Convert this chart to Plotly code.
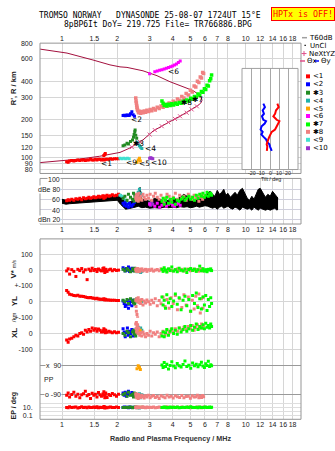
import math
import plotly.graph_objects as go

W, H = 335, 451
L, R = 40, 301

# ---------------------------------------------------------------- data
freq_tickvals = [1, 1.5, 2, 3, 4, 5, 6, 7, 8, 10, 12, 14, 16, 18]
freq_ticktext = ["1", "1.5", "2", "3", "4", "5", "6", "7", "8", "10", "12", "14", "16", "18"]
height_tickvals = [80, 90, 100, 120, 150, 200, 300, 400, 600, 800]
amp_tickvals = [20, 40, 60, 80, 100]
tilt_tickvals = [-20, -10, 0, 10, 20]
tilt_ticktext = ["-20", "-10", "0", "10", "20"]

# model profile trace (R' vs f)
model_f = [0.759, 1.065, 1.475, 1.825, 2.069, 2.258, 2.76, 3.29, 3.87, 4.56, 5.17, 5.64, 5.74, 5.78,
           5.70, 5.50, 4.98, 4.39, 3.73, 3.13, 2.76, 2.34, 2.069, 1.825, 1.60, 1.25, 1.00, 0.759]
model_h = [718, 668, 589, 539, 520, 515, 484, 443, 397, 363, 338, 309, 296, 283,
           270, 258, 236, 212, 187, 162, 138, 119, 110, 106, 102.5, 97.5, 94.5, 91.4]

# NeXtYZ real-height marks
nx_f = [2.40, 2.66, 3.00, 3.20, 3.49, 3.79, 4.12, 4.39, 4.77, 5.08, 5.42]
nx_h = [121, 133, 152, 165, 177, 190, 202, 212, 226, 240, 254]

# unclassified amplitude band (dB)
black_f = [1.00, 1.05, 1.10, 1.20, 1.30, 1.40, 1.50, 1.60, 1.70, 1.80, 1.90, 2.00, 2.08, 2.15, 2.22, 2.30,
           2.40, 2.50, 2.60, 2.66, 2.72, 2.85, 3.00, 3.20, 3.40, 3.60, 3.80, 4.00, 4.20, 4.40, 4.60, 4.80,
           5.00, 5.20, 5.40, 5.60, 5.80, 6.00, 6.20, 6.40, 6.60, 6.80, 7.00, 7.20, 7.40, 7.60, 7.80, 8.00,
           8.25, 8.50, 8.75, 9.00, 9.30, 9.60, 9.90, 10.2, 10.5, 10.8, 11.1, 11.4, 11.7, 12.0, 12.4, 12.8,
           13.2, 13.6, 14.0, 14.4, 14.8, 15.0]
black_lo = [52, 50, 51, 52, 53, 54, 54, 55, 56, 57, 57, 58, 50, 44, 40, 41,
            42, 44, 46, 44, 43, 44, 42, 43, 42, 44, 43, 44, 43, 45, 44, 45,
            43, 44, 46, 44, 45, 47, 46, 44, 42, 44, 40, 44, 46, 42, 44, 46,
            42, 40, 44, 42, 38, 44, 42, 40, 42, 38, 44, 40, 38, 42, 40, 38,
            40, 38, 40, 42, 38, 40]
black_hi = [60, 58, 59, 60, 61, 62, 62, 63, 64, 65, 66, 68, 70, 66, 58, 54,
            56, 60, 62, 84, 60, 58, 56, 62, 60, 56, 58, 62, 60, 64, 70, 66,
            60, 58, 62, 64, 66, 68, 72, 76, 70, 66, 78, 70, 74, 80, 68, 72,
            64, 70, 74, 68, 78, 82, 72, 62, 58, 66, 60, 72, 80, 82, 74, 64,
            70, 66, 76, 70, 64, 62]

# echo class <1 (red)
red_f = [1.06, 1.08, 1.10, 1.13, 1.16, 1.19, 1.22, 1.25, 1.28, 1.31, 1.34, 1.37, 1.40, 1.43, 1.46, 1.49, 1.52,
         1.55, 1.58, 1.61, 1.64, 1.67, 1.70, 1.73, 1.76, 1.80, 1.84, 1.88, 1.93, 1.98, 2.03, 1.69, 1.71, 1.72]
red_h = [93, 92, 94, 95, 94, 95, 96, 95, 96, 96, 95, 96, 96, 97, 96, 96, 97,
         96, 97, 97, 96, 97, 96, 97, 97, 97, 98, 97, 98, 98, 98, 104, 106, 108]
red_db = [57, 59, 58, 60, 58, 61, 60, 62, 59, 63, 61, 62, 64, 62, 63, 65, 63,
          64, 66, 64, 65, 67, 65, 66, 68, 66, 67, 69, 67, 68, 70, 62, 66, 64]
red_vs = [-5, 8, -25, 3, -8, -40, 5, -3, 10, -12, 2, -60, 6, -4, 12, -2, 4,
          -9, 7, 0, -5, 10, -3, 5, -8, 2, 6, -4, 3, -2, 0, 14, -15, -6]
red_yl = [72, 60, 48, 45, 40, 38, 42, 35, 36, 33, 30, 28, 26, 28, 24, 22, 20,
          22, 18, 17, 16, 15, 14, 14, 12, 12, 10, 10, 10, 9, 8, 20, 12, 16]
red_xl = [-40, -55, -35, -30, -20, -10, -15, 0, 5, -5, 20, 10, 25, 15, 35, 20, 30,
          15, 28, 20, 10, 18, 12, 20, 8, 15, 10, 5, 12, 5, 8, 30, 22, 5]
red_pp = [-95, -80, -105, -90, -75, -100, -88, -110, -92, -85, -70, -98, -90, -115, -82, -95, -88,
          -105, -78, -92, -100, -86, -95, -80, -108, -90, -96, -84, -92, -100, -88, -72, -110, -94]
red_ep = [10, 8, 14, 9, 11, 12, 7, 10, 15, 9, 11, 8, 13, 10, 9, 12, 10,
          14, 8, 11, 10, 9, 12, 10, 8, 11, 13, 9, 10, 12, 9, 16, 7, 11]

# echo class <2 (blue)
blue_f = [2.15, 2.18, 2.21, 2.24, 2.27, 2.30, 2.33, 2.36, 2.40, 2.44, 2.48]
blue_h = [215, 216, 214, 216, 217, 215, 216, 222, 230, 218, 212]
blue_db = [52, 48, 54, 46, 50, 44, 52, 48, 46, 50, 54]
blue_vs = [15, 5, -5, 10, 0, 20, -8, 5, 12, -3, 8]
blue_yl = [5, -10, -30, -20, 8, -40, -15, 0, -25, 10, -5]
blue_xl = [30, 10, -20, 5, 35, -10, 15, 0, 25, -15, 20]
blue_pp = [-80, -95, -75, -100, -85, -70, -92, -88, -78, -96, -84]
blue_ep = [10, 12, 9, 11, 10, 8, 13, 10, 9, 11, 10]

# echo class *3 (dark green)
dg_f = [2.15, 2.20, 2.26, 2.30, 2.36, 2.42, 2.45, 2.47, 2.49, 2.50, 2.52, 2.55]
dg_h = [124, 126, 130, 128, 134, 138, 145, 152, 160, 165, 150, 142]
dg_db = [62, 66, 58, 70, 64, 60, 72, 56, 68, 62, 58, 66]
dg_vs = [5, -5, 10, 0, -10, 8, 2, -6, 12, 4, -3, 0]
dg_yl = [10, 0, 15, -10, 20, 5, -5, 12, -15, 8, 0, 18]
dg_xl = [0, -10, 15, 5, -20, 10, 20, -5, 8, 0, -15, 12]
dg_pp = [-90, -82, -100, -75, -95, -88, -105, -80, -92, -98, -85, -90]
dg_ep = [10, 9, 11, 10, 12, 8, 10, 11, 9, 10, 12, 10]

# echo class <4 (teal)
teal_f = [2.56, 2.60, 2.64, 2.68, 2.72]
teal_h = [132, 128, 124, 121, 118]
teal_db = [66, 74, 80, 72, 68]
teal_vs = [-10, -5, 2, -15, -8]
teal_yl = [2, 5, -2, 4, 0]
teal_xl = [30, 40, 25, 35, 20]
teal_pp = [-95, -100, -85, -110, -92]
teal_ep = [8, 10, 7, 9, 11]

# echo class <5 (orange)
or_f = [2.56, 2.60, 2.64, 2.67]
or_h = [92, 96, 99, 94]
or_db = [60, 58, 62, 60]
or_vs = [-5, 0, -8, 2]
or_yl = [5, 8, 2, 6]
or_xl = [15, 5, 10, 20]
or_pp = [72, 90, 80, 66]
or_ep = [10, 10, 9, 11]

# echo class <6 (magenta)
mag_f = [3.00, 3.20, 3.30, 3.40, 3.50, 3.60, 3.70, 3.80, 3.90, 4.00, 4.10, 4.20, 4.30, 4.40]
mag_h = [458, 476, 482, 488, 494, 500, 507, 514, 521, 529, 538, 548, 562, 578]
mag_db = [50, 46, 52, 44, 48, 54, 46, 50, 52, 48, 46, 50, 52, 48]

# echo class <9 (turquoise) and <10 (purple)
cy_f = [2.07, 2.12, 2.17, 2.22, 2.27, 2.32]
cy_h = [99, 98, 99, 98, 99, 98]
cy_db = [68, 66, 62, 58, 52, 48]
pur_f = [3.00, 3.04, 3.08, 3.12]
pur_h = [99, 100, 99, 98]
pur_db = [52, 48, 54, 50]

# echo class *8 (salmon)
sal_f = [2.52, 2.53, 2.54, 2.55, 2.56, 2.57, 2.58, 2.60, 2.62, 2.65, 2.68, 2.72, 2.76, 2.80, 2.85, 2.90,
         2.96, 3.02, 3.08, 3.15, 3.22, 3.30, 3.38, 3.46, 3.55, 3.64, 3.73, 3.83, 3.93, 4.03, 4.14, 4.25,
         4.37, 4.49, 4.61, 4.74, 4.87, 5.00, 5.12, 5.24, 5.35, 5.46, 5.56, 5.66, 5.75, 5.83, 5.90]
sal_h = [295, 280, 270, 258, 250, 242, 236, 230, 226, 232, 224, 230, 226, 233, 228, 236,
         231, 240, 234, 244, 238, 250, 244, 256, 250, 262, 256, 270, 262, 278, 272, 290,
         284, 304, 296, 320, 312, 340, 330, 368, 360, 400, 392, 432, 425, 470, 460]
sal_db = [62, 66, 58, 70, 64, 60, 68, 56, 72, 62, 66, 58, 70, 64, 60, 68,
          62, 70, 58, 66, 72, 64, 60, 68, 56, 62, 70, 66, 58, 64, 72, 60,
          68, 62, 66, 58, 70, 64, 60, 68, 62, 66, 56, 64, 70, 60, 66]
sal_vs = [5, -5, 8, 0, -8, 3, 10, -3, 6, -10, 2, 8, -5, 0, 5, -8,
          3, -2, 6, -6, 0, 4, -4, 8, -2, 2, -8, 6, 0, -5, 3, 8,
          -3, 5, -6, 2, 7, -4, 0, 6, -2, 4, -7, 3, 8, -5, 0]
sal_yl = [10, -30, -60, 20, -80, 5, -100, 25, -5, 10, -10, 15, -20, 5, -8, 12,
          0, -15, 10, -5, 20, -25, 8, -12, 30, -30, 15, -40, 25, -10, 40, -50,
          20, -35, 45, -20, 30, -60, 10, -45, 35, -25, 50, -70, 20, -40, 30]
sal_xl = [60, 30, 70, 10, 45, 20, 55, 0, 35, -10, 5, -15, 10, -5, -20, 0,
          -10, 15, -15, 5, -5, 10, -20, 0, 15, -10, 20, 5, 25, 10, 30, 15,
          35, 20, 40, 25, 45, 30, 50, 20, 40, 55, 30, 45, 60, 35, 50]
sal_pp = [-85, -100, -92, -110, -88, -105, -95, -115, -90, -100, -108, -95, -102, -112, -98, -105,
          -94, -110, -100, -96, -108, -102, -115, -98, -104, -110, -95, -106, -100, -112, -98, -104,
          -108, -96, -110, -102, -100, -114, -98, -106, -104, -95, -110, -100, -108, -96, -104]
sal_ep = [10, 12, 8, 11, 9, 13, 10, 8, 12, 10, 9, 11, 14, 10, 8, 12,
          9, 11, 10, 13, 8, 10, 12, 9, 11, 10, 14, 8, 10, 12, 9, 11,
          10, 13, 9, 10, 12, 8, 11, 10, 9, 12, 10, 11, 8, 10, 12]

# echo class *7 (green)
gr_f = [3.50, 3.55, 3.60, 3.66, 3.72, 3.80, 3.88, 3.96, 4.05, 4.14, 4.24, 4.34, 4.45, 4.56, 4.67, 4.78,
        4.90, 5.02, 5.14, 5.26, 5.38, 5.50, 5.62, 5.74, 5.85, 5.96, 6.06, 6.16, 6.26, 6.36, 6.45, 6.52]
gr_h = [280, 268, 258, 262, 256, 264, 258, 266, 260, 268, 264, 272, 268, 278, 274, 285,
        280, 294, 290, 304, 300, 318, 312, 332, 328, 350, 345, 372, 368, 405, 420, 448]
gr_db = [56, 62, 50, 58, 64, 52, 60, 54, 62, 50, 58, 56, 60, 64, 58, 62,
         66, 60, 64, 58, 68, 62, 70, 66, 72, 64, 68, 74, 66, 70, 72, 68]
gr_vs = [5, -8, 15, 0, -12, 8, -3, 20, -6, 3, -10, 12, 0, -5, 7, -15,
         4, 10, -2, 6, -8, 2, 25, -4, 9, -6, 3, -10, 5, 0, 8, -3]
gr_yl = [30, -20, 10, -40, 45, -5, 20, -30, 5, 50, -15, 25, -50, 10, 35, -25,
         15, -60, 40, -10, 55, -35, 20, -45, 30, -20, 40, -55, 15, -30, 25, -10]
gr_xl = [-15, 10, -20, 5, 25, -10, 15, 30, 0, 20, -5, 35, 10, 25, 45, 15,
         30, 50, 20, 40, 60, 25, 45, 35, 55, 30, 65, 40, 50, 35, 60, 45]
gr_pp = [95, 80, 110, 85, 100, 70, 92, 115, 88, 78, 105, 90, 82, 98, 120, 86,
         94, 75, 108, 90, 100, 84, 96, 112, 88, 80, 102, 92, 118, 86, 96, 90]
gr_ep = [10, 9, 12, 11, 8, 10, 13, 9, 11, 10, 12, 8, 10, 11, 9, 12,
         10, 14, 9, 10, 11, 8, 12, 10, 9, 11, 13, 10, 9, 12, 10, 11]

# tilt inset (heights km, tilt deg)
tilt_h = [265, 249, 235, 221, 211, 198, 193, 185, 176, 166, 159, 152, 146, 139, 132, 127, 122, 116, 113]
tilt_y = [-7.4, -5.6, -8.1, -6.7, -8.9, -7.4, -4.4, -5.9, -9.3, -10.4, -8.1, -9.6, -7.4, -4.4, -3.0, -0.7, 0.0, 1.5, 1.9]
tilt_x = [8.1, 9.6, 6.7, 5.6, 3.7, 7.4, 10.4, 9.3, 7.4, 5.6, 1.9, 0.0, -0.7, -1.9, -3.0, -3.7, -3.0, -3.7, -3.5]

# class labels
class_names = ["<1", "<2", "\u27313", "<4", "<5", "<6", "\u27317", "\u27318", "<9", "<10"]
label_f = [1.61, 2.34, 2.41, 2.78, 2.58, 3.71, 5.04, 4.39, 2.20, 3.00]
label_h = [89.8, 201, 129, 117, 90, 476, 288, 274, 91, 91.4]

# ---------------------------------------------------------------- styles
C_RED, C_BLUE, C_DG, C_TEAL, C_OR = "#ff0000", "#0000ff", "#228b22", "#20b2aa", "#ffa500"
C_MAG, C_GR, C_SAL, C_CY, C_PUR = "#ff00ff", "#00ff00", "#f08080", "#40e0d0", "#9932cc"
class_colors = [C_RED, C_BLUE, C_DG, C_TEAL, C_OR, C_MAG, C_GR, C_SAL, C_CY, C_PUR]
C_MODEL = "#a3103e"
C_NX = "#e0508a"
GRID = "#d6d6d6"
FRAME = "#959595"
TXT = "#222222"
SANS = "Liberation Sans"


def xd(a, b):
    return [a / W, b / W]


def yd(top, bottom):
    return [1 - bottom / H, 1 - top / H]


def PX(x):
    return x / W


def PY(y):
    return 1 - y / H


fig = go.Figure()


def dots(x, y, color, xa, ya, size=3):
    fig.add_trace(go.Scatter(x=x, y=y, mode="markers", xaxis=xa, yaxis=ya,
                             marker=dict(symbol="square", size=size, color=color, line=dict(width=0)),
                             hoverinfo="skip", showlegend=False))


# ---- top ionogram panel
fig.add_trace(go.Scatter(x=model_f, y=model_h, mode="lines", xaxis="x", yaxis="y",
                         line=dict(color=C_MODEL, width=1), hoverinfo="skip", showlegend=False))
top_sets = [(red_f, red_h, C_RED), (cy_f, cy_h, C_CY), (or_f, or_h, C_OR), (pur_f, pur_h, C_PUR),
            (blue_f, blue_h, C_BLUE), (dg_f, dg_h, C_DG), (teal_f, teal_h, C_TEAL),
            (mag_f, mag_h, C_MAG), (sal_f, sal_h, C_SAL), (gr_f, gr_h, C_GR)]
for f, h, c in top_sets:
    dots(f, h, c, "x", "y", size=3.5 if c in (C_SAL, C_GR) else 3)
fig.add_trace(go.Scatter(x=nx_f, y=nx_h, mode="markers", xaxis="x", yaxis="y",
                         marker=dict(symbol="x-thin-open", size=4, color=C_NX, line=dict(width=1, color=C_NX)),
                         hoverinfo="skip", showlegend=False))

# ---- amplitude panel
fig.add_trace(go.Scatter(x=black_f, y=black_lo, mode="lines", xaxis="x2", yaxis="y2",
                         line=dict(color="black", width=1), hoverinfo="skip", showlegend=False))
fig.add_trace(go.Scatter(x=black_f, y=black_hi, mode="lines", xaxis="x2", yaxis="y2", fill="tonexty",
                         fillcolor="black", line=dict(color="black", width=1), hoverinfo="skip", showlegend=False))
amp_sets = [(red_f, red_db, C_RED), (cy_f, cy_db, C_CY), (blue_f, blue_db, C_BLUE), (dg_f, dg_db, C_DG),
            (teal_f, teal_db, C_TEAL), (or_f, or_db, C_OR), (pur_f, pur_db, C_PUR), (mag_f, mag_db, C_MAG),
            (sal_f, sal_db, C_SAL), (gr_f, gr_db, C_GR)]
for f, v, c in amp_sets:
    dots(f, v, c, "x2", "y2")

# ---- tilt inset
fig.add_trace(go.Scatter(x=tilt_y, y=tilt_h, mode="lines", xaxis="x3", yaxis="y3",
                         line=dict(color=C_BLUE, width=2), hoverinfo="skip", showlegend=False))
fig.add_trace(go.Scatter(x=tilt_x, y=tilt_h, mode="lines", xaxis="x3", yaxis="y3",
                         line=dict(color=C_RED, width=2), hoverinfo="skip", showlegend=False))

# ---- lower parameter panels
low_sets = [(red_f, red_vs, red_yl, red_xl, red_pp, red_ep, C_RED),
            (blue_f, blue_vs, blue_yl, blue_xl, blue_pp, blue_ep, C_BLUE),
            (dg_f, dg_vs, dg_yl, dg_xl, dg_pp, dg_ep, C_DG),
            (teal_f, teal_vs, teal_yl, teal_xl, teal_pp, teal_ep, C_TEAL),
            (or_f, or_vs, or_yl, or_xl, or_pp, or_ep, C_OR),
            (sal_f, sal_vs, sal_yl, sal_xl, sal_pp, sal_ep, C_SAL),
            (gr_f, gr_vs, gr_yl, gr_xl, gr_pp, gr_ep, C_GR)]
for f, vs, yl, xl, pp, ep, c in low_sets:
    for vals, ya in ((vs, "y4"), (yl, "y5"), (xl, "y6"), (pp, "y7"), (ep, "y8")):
        dots(f, vals, c, "x4", ya)

# ---------------------------------------------------------------- axes
tfont = dict(family=SANS, size=7, color=TXT)
logx = [math.log10(0.759), math.log10(20.0)]
common_x = dict(type="log", range=logx, tickvals=freq_tickvals, ticktext=freq_ticktext, tickfont=tfont,
                showgrid=True, gridcolor=GRID, gridwidth=1, zeroline=False, ticks="", tickangle=0,
                showline=False, fixedrange=True)
common_y = dict(tickfont=tfont, showgrid=True, gridcolor=GRID, zeroline=False, ticks="outside", ticklen=5,
                tickcolor="rgba(0,0,0,0)", showline=False, fixedrange=True)

fig.update_layout(
    width=W, height=H, margin=dict(l=0, r=0, t=0, b=0),
    paper_bgcolor="white", plot_bgcolor="white", showlegend=False,
    xaxis=dict(common_x, domain=xd(L, R), anchor="y", side="top"),
    yaxis=dict(common_y, domain=yd(39.5, 171), type="log", range=[math.log10(75), math.log10(800)],
               anchor="x", tickvals=height_tickvals),
    xaxis2=dict(common_x, domain=xd(L, R), anchor="y2", side="bottom"),
    yaxis2=dict(common_y, domain=yd(176, 222), range=[10, 102], anchor="x2", tickvals=amp_tickvals,
                showticklabels=False, gridcolor="#cfcfdc"),
    xaxis3=dict(domain=xd(242, 298), range=[-31, 31], anchor="y3", tickvals=tilt_tickvals,
                showticklabels=False, ticks="", showgrid=True,
                gridcolor="#a8a8a8", zeroline=False, showline=False, fixedrange=True),
    yaxis3=dict(domain=yd(65, 167), type="log", range=[math.log10(80.6), math.log10(501)], anchor="x3",
                showticklabels=False, showgrid=False, zeroline=False, showline=False, ticks="", fixedrange=True),
    xaxis4=dict(common_x, domain=xd(L, R), anchor="y8", side="bottom"),
    yaxis4=dict(common_y, domain=yd(237, 284.5), range=[-100, 197], anchor="x4",
                tickvals=[100, 0], ticktext=["100", "0"]),
    yaxis5=dict(common_y, domain=yd(284.5, 316.5), range=[-100, 100], anchor="x4",
                tickvals=[100, 0], ticktext=["+-100", "0"]),
    yaxis6=dict(common_y, domain=yd(316.5, 356), range=[-147, 100], anchor="x4",
                tickvals=[100, 0, -100], ticktext=["+-100", "0", "-100"]),
    yaxis7=dict(common_y, domain=yd(356, 400), range=[-127, 146], anchor="x4",
                tickvals=[90, -90], showticklabels=False, gridcolor="#9a9a9a"),
    yaxis8=dict(common_y, domain=yd(400, 419), type="log", range=[-2, 2.75], anchor="x4",
                tickvals=[100, 10, 1, 0.1], ticktext=["", "10.", "", "0.1"], gridcolor="#dedede"),
)

# ---------------------------------------------------------------- frames & legend marks
shapes = []


def frame(x0, y0, x1, y1, color=FRAME):
    shapes.append(dict(type="rect", xref="paper", yref="paper", x0=PX(x0), x1=PX(x1), y0=PY(y1), y1=PY(y0),
                       line=dict(color=color, width=1), fillcolor="rgba(0,0,0,0)", layer="above"))


frame(L, 39.5, R, 171)
frame(L, 176, R, 222)
frame(L, 237, R, 419)
frame(242, 65, 298, 167, "#a0a0a0")


def seg(x0, y0, x1, y1, color, width=1):
    shapes.append(dict(type="line", xref="paper", yref="paper", x0=PX(x0), x1=PX(x1), y0=PY(y0), y1=PY(y1),
                       line=dict(color=color, width=width), layer="above"))


# legend glyphs
seg(302, 34, 307, 34, "#a0a0a0", 1.5)
shapes.append(dict(type="rect", xref="paper", yref="paper", x0=PX(304.5), x1=PX(305.8), y0=PY(42.5), y1=PY(41.2),
                   fillcolor="black", line=dict(width=0), layer="above"))
seg(301.5, 50, 306.5, 50, C_NX)
seg(304, 47.5, 304, 52.5, C_NX)
seg(300, 57.5, 305, 57.5, C_NX, 1.5)
seg(314, 57.5, 319, 57.5, C_BLUE, 1.5)
legend_rows = [73, 81, 89.5, 97.5, 105.5, 113, 121.5, 129, 137, 145.5]
for yy, c in zip(legend_rows, class_colors):
    shapes.append(dict(type="rect", xref="paper", yref="paper", x0=PX(306), x1=PX(310), y0=PY(yy + 2),
                       y1=PY(yy - 2), fillcolor=c, line=dict(width=0), layer="above"))
fig.update_layout(shapes=shapes)

# ---------------------------------------------------------------- text
ann = []


def text(x, y, s, size=7, family=SANS, color=TXT, xanchor="center", angle=0, bg=None, yanchor="middle"):
    d = dict(x=PX(x), y=PY(y), xref="paper", yref="paper", text=s, showarrow=False,
             font=dict(size=size, family=family, color=color), xanchor=xanchor, yanchor=yanchor,
             textangle=angle, borderpad=0)
    if bg:
        d["bgcolor"] = bg
    ann.append(d)


MONO = "DejaVu Sans Mono"
text(150, 11.5, "TROMSO NORWAY\u00a0\u00a0\u00a0DYNASONDE 25-08-07 1724UT 15\u00b0E", size=8, family=MONO, color="black")
text(157.5, 21, "8pBP6It DoY= 219.725 File= TR766886.BPG", size=8, family=MONO, color="black")
ann.append(dict(x=PX(302.5), y=PY(10), xref="paper", yref="paper", text="HPTx is OFF!", showarrow=False,
                font=dict(size=8.3, family=MONO, color="#ff0000"), bgcolor="#ffff00", bordercolor="#ff0000",
                borderwidth=1, borderpad=1, xanchor="center", yanchor="middle"))

# axis titles
text(13, 85, "<b>R', R / km</b>", size=7.5, angle=-90)
text(14, 268, "<b>V*</b> <span style='font-size:5px'>m/s</span>", size=8, angle=-90)
text(14, 300, "<b>YL</b>", size=8, angle=-90)
text(14, 316, "/km", size=6, angle=-90)
text(14, 332, "<b>XL</b>", size=8, angle=-90)
text(14, 405, "<b>EP / deg</b>", size=7, angle=-90)
text(170, 438, "<b>Radio and Plasma Frequency / MHz</b>", size=7.2, color="#333333")

# amplitude labels inside panel
text(61, 177, "100", xanchor="right", bg="white")
text(61, 187, "dBe 80", xanchor="right", bg="white")
text(61, 197, "60", xanchor="right", bg="white")
text(61, 208, "40", xanchor="right", bg="white")
text(61, 217, "dBn 20", xanchor="right", bg="white")

# polarisation labels inside panel
text(43, 379, "PP", xanchor="left")
text(62, 365, "x\u00a0\u00a090", xanchor="right", bg="white")
text(62, 394, "o -90", xanchor="right", bg="white")

# tilt inset tick labels (placed on the inset's own x scale) and title
for tv, tt in zip(tilt_tickvals, tilt_ticktext):
    ann.append(dict(x=tv, y=PY(170.5), xref="x3", yref="paper", text=tt, showarrow=False,
                    font=dict(size=5.3, family=SANS, color=TXT), xanchor="center", yanchor="middle", borderpad=0))
text(271, 176.5, "Tilt / deg", size=5.3)

# legend texts
LEG = dict(size=7, family="DejaVu Sans", color="black", xanchor="left")
text(308, 34, "T60dB", **LEG)
text(309, 42, "UnCl", **LEG)
text(307.5, 50, "NeXtYZ", **LEG)
text(305.5, 57.5, "\u0398x", **LEG)
text(319.5, 57.5, "\u0398y", **LEG)
for yy, s in zip(legend_rows, class_names):
    text(311.5, yy, s, **LEG)

# class labels on the ionogram
for f, h, s in zip(label_f, label_h, class_names):
    ann.append(dict(x=math.log10(f), y=math.log10(h), xref="x", yref="y", text=s, showarrow=False,
                    font=dict(size=7.5, family="DejaVu Sans", color="black"), xanchor="left", yanchor="middle",
                    borderpad=0))

fig.update_layout(annotations=ann)
fig.write_html("out.html")
